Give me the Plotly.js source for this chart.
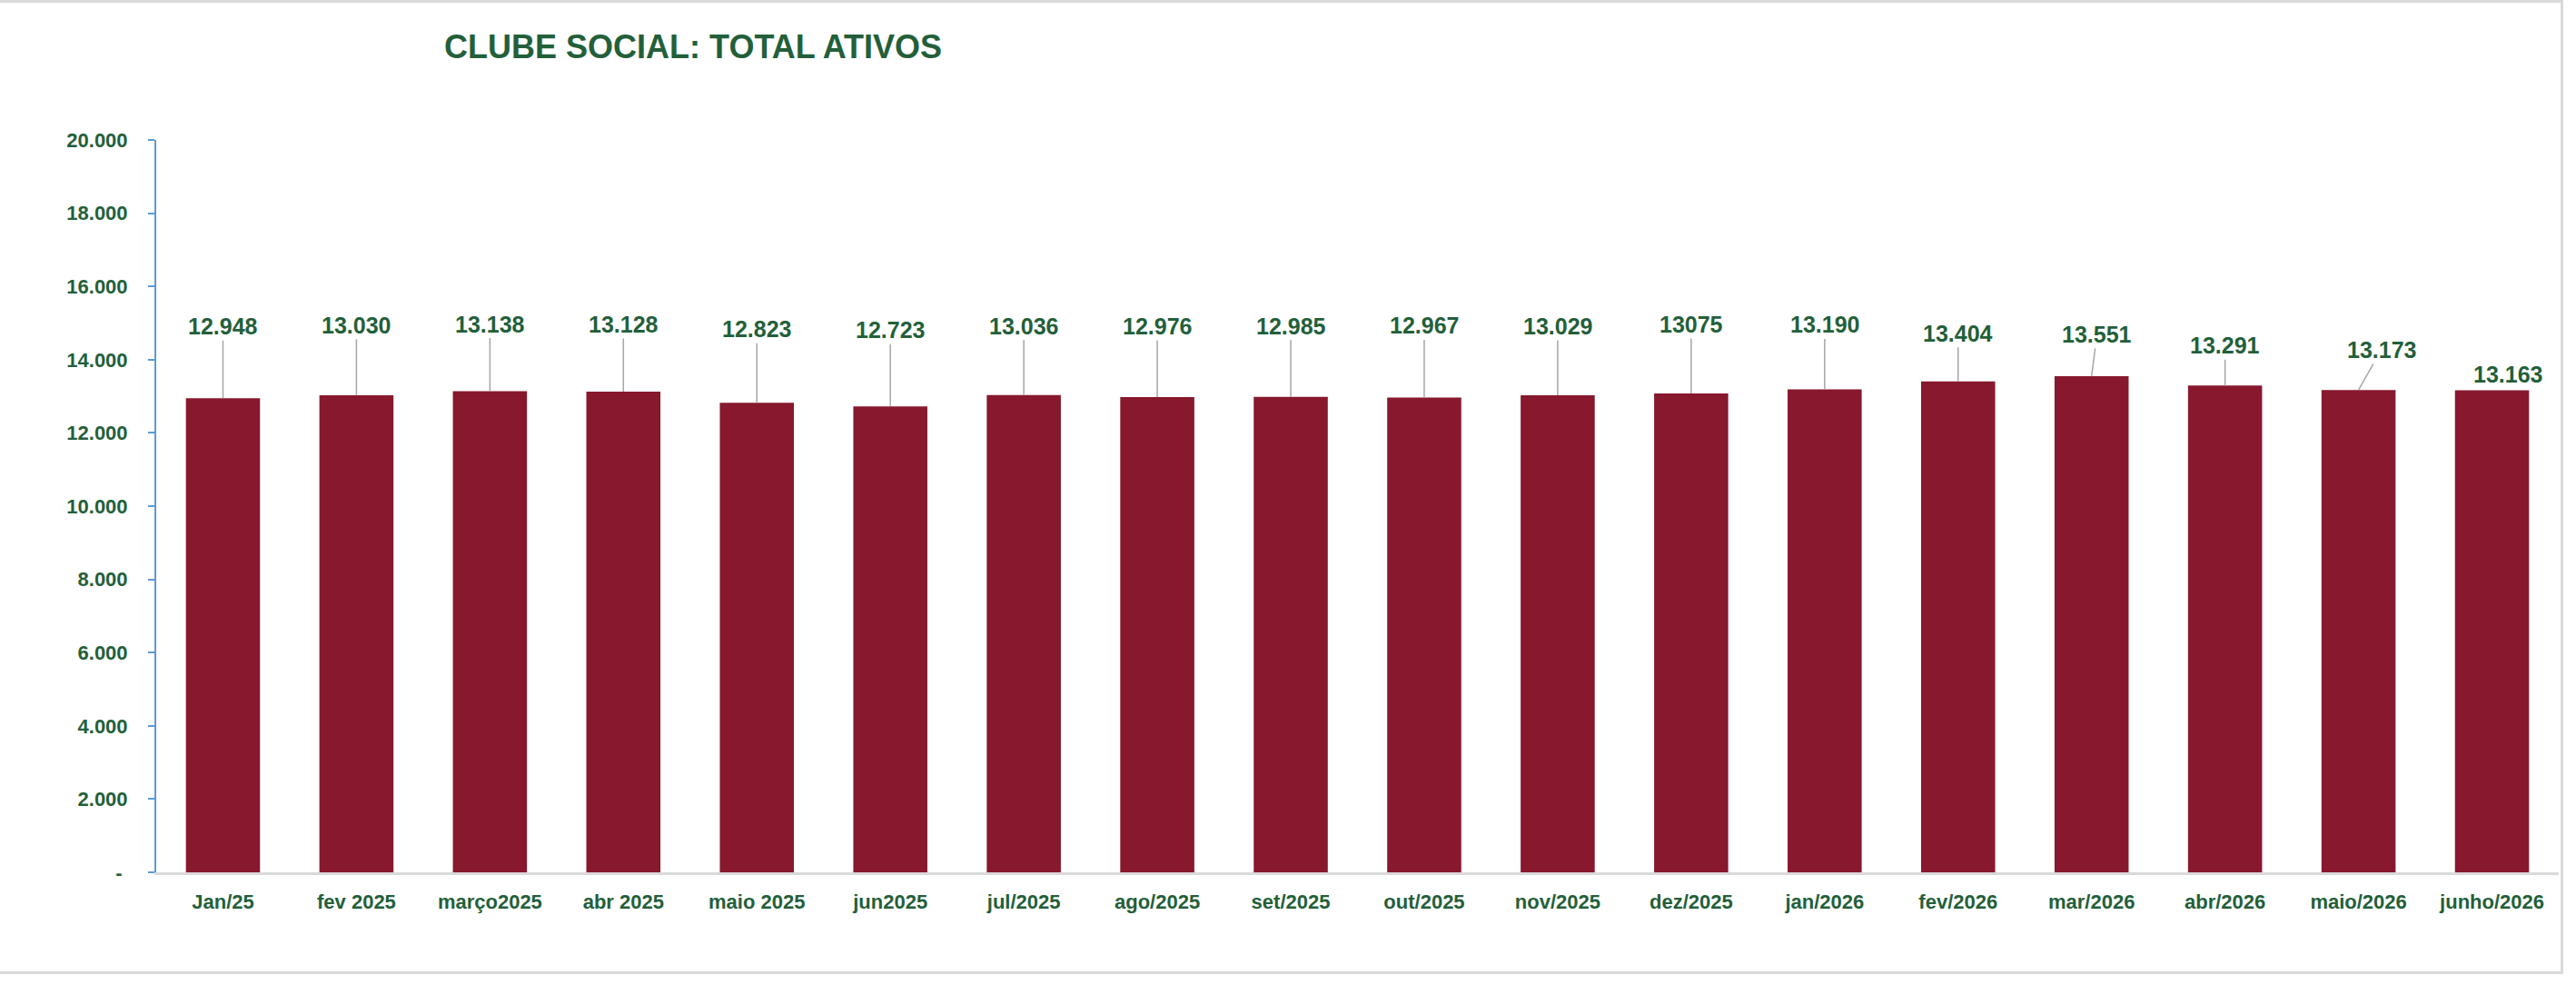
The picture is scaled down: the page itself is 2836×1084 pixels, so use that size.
<!DOCTYPE html>
<html>
<head>
<meta charset="utf-8">
<script src="https://cdn.plot.ly/plotly-3.0.1.min.js"></script>
<style>
  html, body { margin: 0; padding: 0; background: #ffffff; }
  #chart { width: 2819px; height: 1066px; border: 3px solid #d9d9d9; border-left: none; }
</style>
</head>
<body>
<div id="chart"></div>
<script>
const months = ["Jan/25", "fev 2025", "março2025", "abr 2025", "maio 2025", "jun2025",
  "jul/2025", "ago/2025", "set/2025", "out/2025", "nov/2025", "dez/2025",
  "jan/2026", "fev/2026", "mar/2026", "abr/2026", "maio/2026", "junho/2026"];
const ativos = [12948, 13030, 13138, 13128, 12823, 12723, 13036, 12976, 12985,
  12967, 13029, 13075, 13190, 13404, 13551, 13291, 13173, 13163];
const labels = ["12.948", "13.030", "13.138", "13.128", "12.823", "12.723", "13.036",
  "12.976", "12.985", "12.967", "13.029", "13075", "13.190", "13.404", "13.551",
  "13.291", "13.173", "13.163"];
const yTicks = [0, 2000, 4000, 6000, 8000, 10000, 12000, 14000, 16000, 18000, 20000];
const yTickText = ["-\u00a0", "2.000", "4.000", "6.000", "8.000", "10.000",
  "12.000", "14.000", "16.000", "18.000", "20.000"];

// where Excel left each data label (pixels above / right of the bar top)
const labelLift = [79, 77, 74, 74, 81, 84, 76, 78, 78, 79, 76, 76, 71, 53, 46, 44, 44, 18];
const labelShift = [0, 0, 0, 0, 0, 0, 0, 0, 0, 0, 0, 0, 0, 0, 6, 0, 25, 17];

const green = "#235f3a";
const font = "Liberation Sans, Arial, sans-serif";

const annotations = months.map(function (m, i) {
  var a = {
    x: m, y: ativos[i], xref: "x", yref: "y",
    text: labels[i],
    font: { family: font, size: 25, color: green, weight: "bold" }
  };
  if (labelLift[i] > 30) {
    a.showarrow = true;
    a.arrowhead = 0;
    a.arrowwidth = 1.5;
    a.arrowcolor = "#a6a6a6";
    a.standoff = 0;
    a.ax = labelShift[i];
    a.ay = -labelLift[i];
  } else {
    a.showarrow = false;
    a.xshift = labelShift[i];
    a.yshift = labelLift[i];
    a.yanchor = "middle";
  }
  return a;
});

const data = [{
  type: "bar",
  x: months,
  y: ativos,
  marker: { color: "#87182e" },
  hoverinfo: "skip"
}];

const layout = {
  width: 2819,
  height: 1066,
  margin: { l: 172, r: 2, t: 151, b: 109, pad: 0 },
  paper_bgcolor: "#ffffff",
  plot_bgcolor: "#ffffff",
  showlegend: false,
  bargap: 0.445,
  hovermode: false,
  title: {
    text: "CLUBE SOCIAL: TOTAL ATIVOS",
    font: { family: font, size: 36, color: green, weight: "bold" },
    x: 0.2707, xanchor: "center",
    y: 0.955, yanchor: "middle"
  },
  xaxis: {
    type: "category",
    showline: true,
    linecolor: "#d9d9d9",
    linewidth: 3,
    ticks: "",
    showgrid: false,
    tickfont: { family: font, size: 22, color: green, weight: "bold" },
    ticklabelstandoff: 11
  },
  yaxis: {
    range: [0, 20000],
    tickvals: yTicks,
    ticktext: yTickText,
    showgrid: false,
    zeroline: false,
    showline: true,
    linecolor: "#5b9bd5",
    linewidth: 2,
    ticks: "outside",
    ticklen: 7,
    tickwidth: 2,
    tickcolor: "#5b9bd5",
    tickfont: { family: font, size: 22, color: green, weight: "bold" },
    ticklabelstandoff: 18
  },
  annotations: annotations
};

Plotly.newPlot("chart", data, layout, { displayModeBar: false, staticPlot: true });
</script>
</body>
</html>
